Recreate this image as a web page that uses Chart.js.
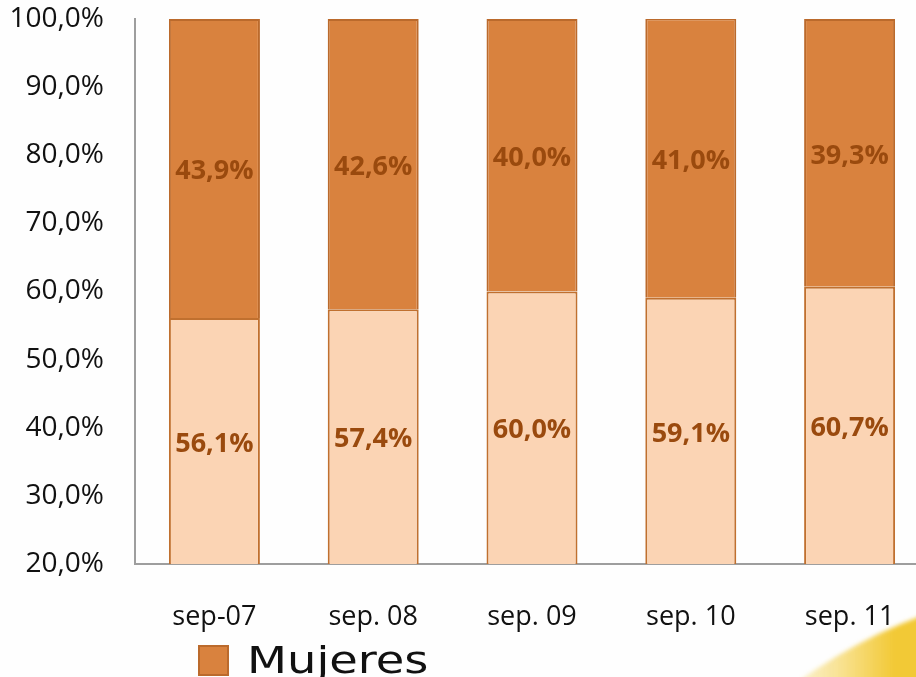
<!DOCTYPE html>
<html>
<head>
<meta charset="utf-8">
<script src="https://cdn.jsdelivr.net/npm/chart.js@4/dist/chart.umd.min.js"></script>
<style>
  html, body { margin: 0; padding: 0; overflow: hidden; background: #fefefe; }
  #wrap { position: relative; width: 930px; height: 677px; overflow: hidden; }
  #swoosh { position: absolute; left: 584px; top: 584px; width: 1032px; height: 1032px;
    border-radius: 50%;
    background: linear-gradient(90deg, rgba(243,203,58,0) 180px, rgba(243,203,58,0.5) 250px, #F2C936 310px);
    filter: blur(2px); }
  canvas { position: absolute; left: 0; top: 0; }
</style>
</head>
<body>
<div id="wrap">
  <div id="swoosh"></div>
  <canvas id="c" width="930" height="677"></canvas>
</div>
<script>
const categories = ['sep-07', 'sep. 08', 'sep. 09', 'sep. 10', 'sep. 11'];
const hombres = [56.1, 57.4, 60.0, 59.1, 60.7];
const mujeres = [43.9, 42.6, 40.0, 41.0, 39.3];
const yTicksMin = 20;
const yTicksMax = 100;
const yStep = 10;

const fmt = v => v.toFixed(1).replace('.', ',') + '%';

const labelPlugin = {
  id: 'barLabels',
  afterDatasetsDraw(chart) {
    const ctx = chart.ctx;
    const area = chart.chartArea;
    ctx.save();
    ctx.font = 'bold 27px "Open Sans"';
    ctx.fillStyle = '#9A4A0E';
    ctx.textAlign = 'center';
    ctx.textBaseline = 'middle';
    chart.data.datasets.forEach((ds, di) => {
      const meta = chart.getDatasetMeta(di);
      meta.data.forEach((el, i) => {
        let top = Math.min(el.y, el.base);
        let bot = Math.max(el.y, el.base);
        top = Math.max(top, area.top);
        bot = Math.min(bot, area.bottom);
        ctx.fillText(fmt(ds.data[i]), el.x, (top + bot) / 2 + 3);
      });
    });
    ctx.restore();
  }
};

const legendPlugin = {
  id: 'customLegend',
  afterDraw(chart) {
    const ctx = chart.ctx;
    ctx.save();
    ctx.fillStyle = '#D9823E';
    ctx.strokeStyle = '#BB6A2C';
    ctx.lineWidth = 2;
    ctx.fillRect(199, 646, 29, 29);
    ctx.strokeRect(199, 646, 29, 29);
    ctx.fillStyle = '#111111';
    ctx.font = '38px "DejaVu Sans"';
    ctx.textBaseline = 'alphabetic';
    ctx.translate(247, 673);
    ctx.scale(1.22, 1);
    ctx.fillText(chart.data.datasets[1].label, 0, 0);
    ctx.restore();
  }
};

new Chart(document.getElementById('c'), {
  type: 'bar',
  data: {
    labels: categories,
    datasets: [
      { label: 'Hombres', data: hombres, backgroundColor: '#FBD4B4', borderColor: '#C0702F', borderWidth: 2 },
      { label: 'Mujeres', data: mujeres, backgroundColor: '#D9823E', borderColor: '#BB6A2C', borderWidth: 2 }
    ]
  },
  options: {
    responsive: false,
    animation: false,
    layout: { padding: { top: 19, right: 1, left: 0, bottom: 0 } },
    datasets: { bar: { categoryPercentage: 1.0, barPercentage: 0.573 } },
    plugins: {
      legend: { display: false },
      tooltip: { enabled: false }
    },
    scales: {
      x: {
        stacked: true,
        grid: { display: true, drawOnChartArea: false, drawTicks: true, tickLength: 37, color: 'rgba(0,0,0,0)' },
        border: { display: true, color: '#9E9E9E', width: 2 },
        ticks: { padding: 0, color: '#111', font: { family: 'Open Sans', size: 27 } },
        afterFit(s) { s.height = 113; }
      },
      y: {
        stacked: true,
        min: yTicksMin,
        max: yTicksMax,
        grid: { display: true, drawOnChartArea: false, drawTicks: true, tickLength: 31, color: 'rgba(0,0,0,0)' },
        border: { display: true, color: '#9E9E9E', width: 2 },
        ticks: { stepSize: yStep, padding: 0, color: '#111', font: { family: 'Open Sans', size: 28 }, callback: v => fmt(v) },
        afterFit(s) { s.width = 135; }
      }
    }
  },
  plugins: [labelPlugin, legendPlugin]
});
</script>
</body>
</html>
